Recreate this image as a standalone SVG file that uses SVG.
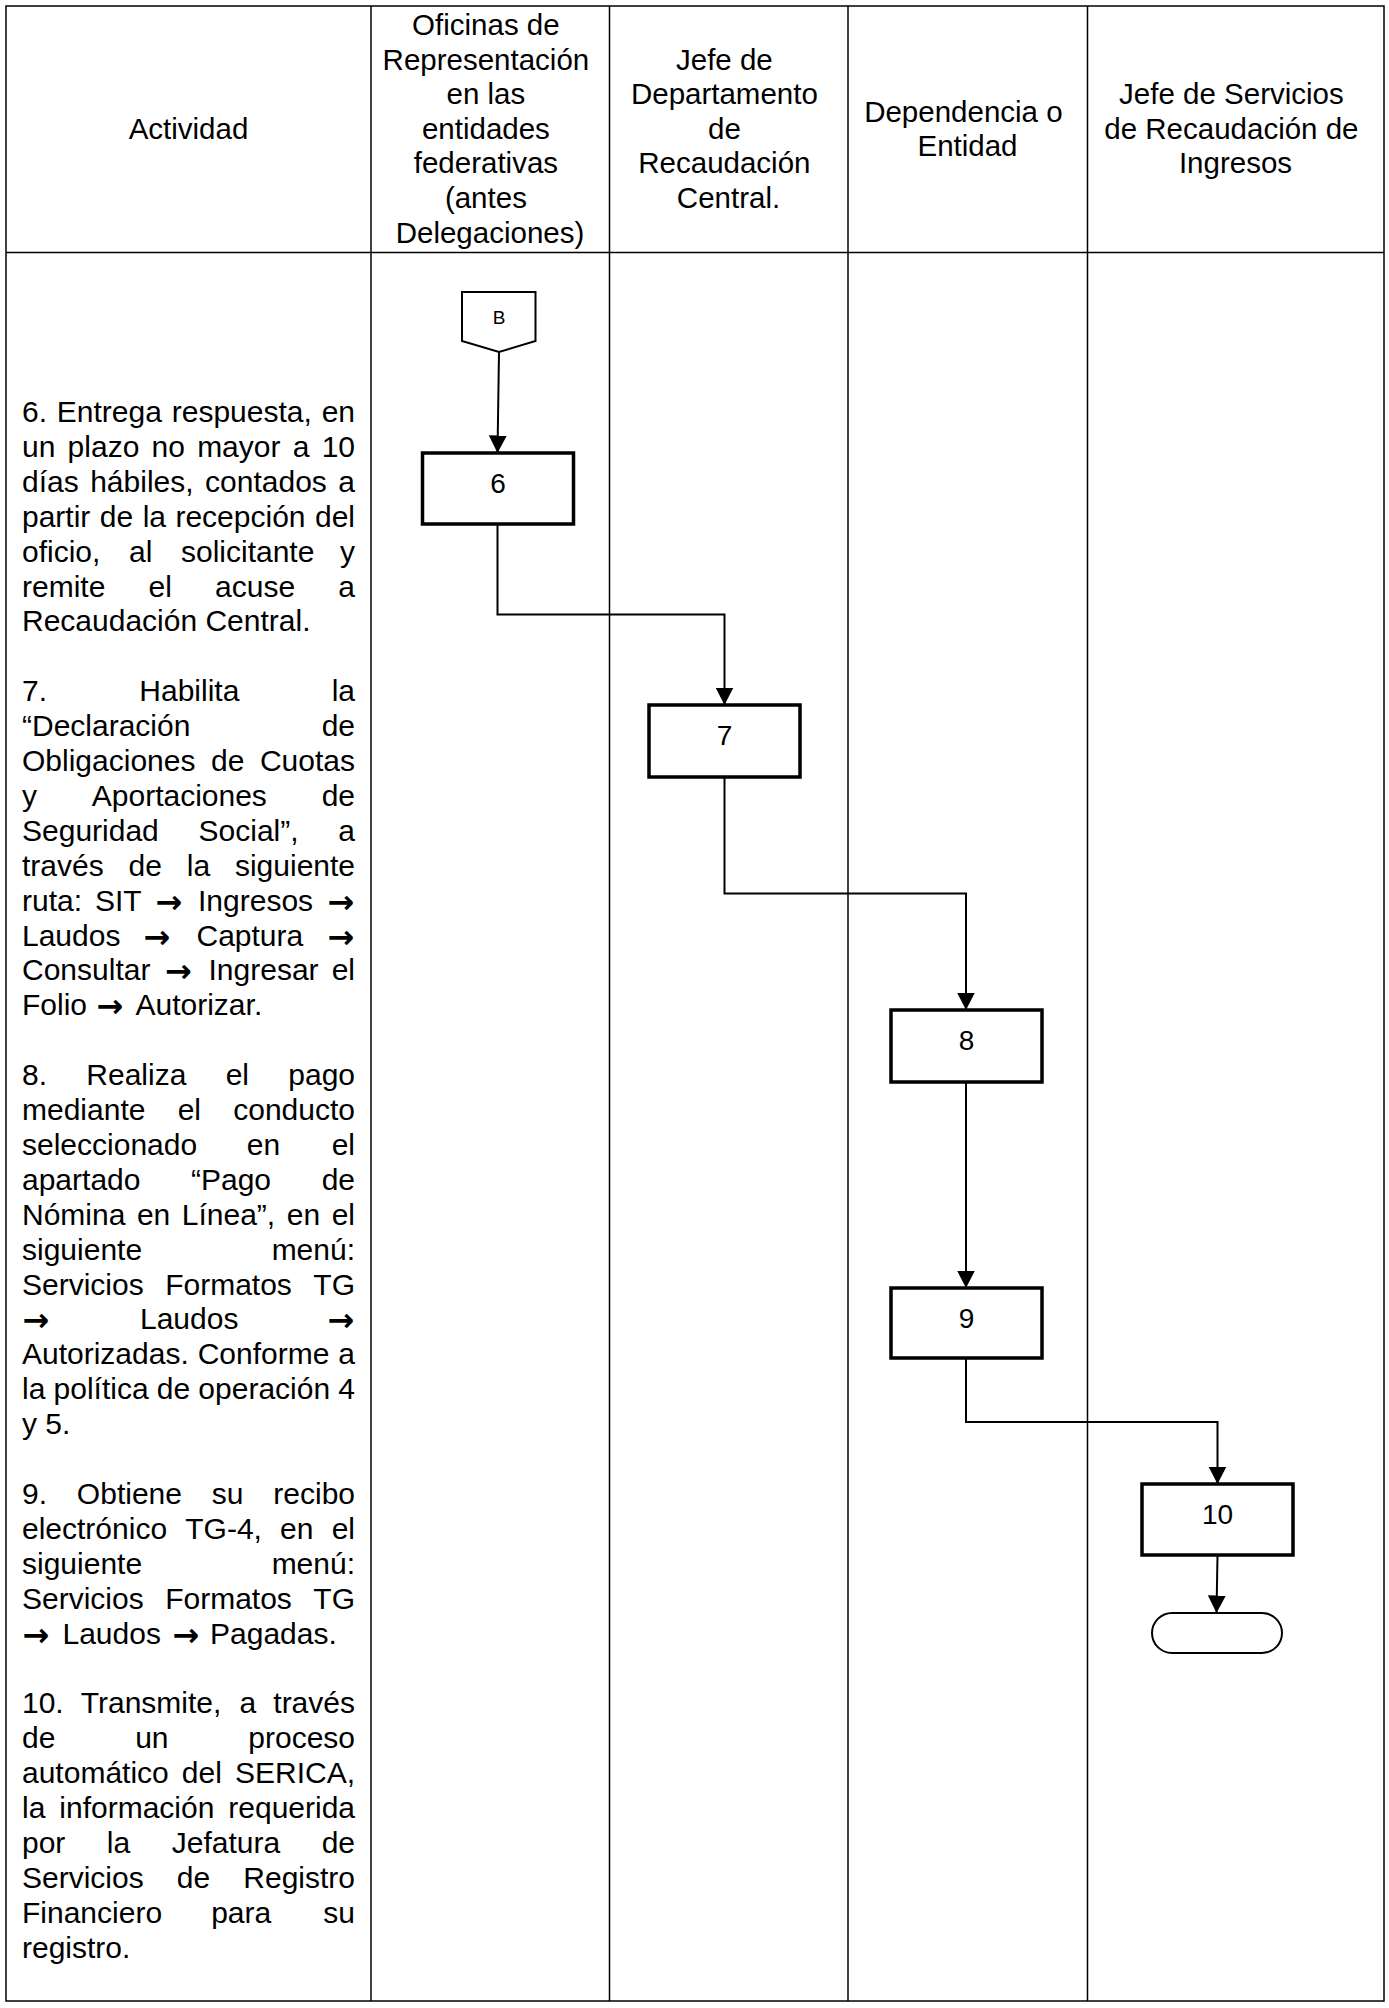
<svg xmlns="http://www.w3.org/2000/svg" width="1389" height="2008" viewBox="0 0 1389 2008">
<style>
  text { font-family: "Liberation Sans", Arial, sans-serif; fill: #000; }
  .hdr { font-size: 29.5px; text-anchor: middle; }
  .act { font-size: 30px; }
  .arr { font-family: "DejaVu Sans", sans-serif; font-size: 32px; font-weight: bold; text-anchor: middle; }
  .lbl { font-size: 28px; text-anchor: middle; }
  .conlbl { font-size: 19px; text-anchor: middle; }
  .grid { stroke: #000; stroke-width: 1.5; fill: none; }
  .box { fill: #fff; stroke: #000; stroke-width: 3.5; }
  .shape { fill: #fff; stroke: #000; stroke-width: 2; }
  .conn { fill: none; stroke: #000; stroke-width: 2; marker-end: url(#arrow); }
</style>
<defs>
  <marker id="arrow" markerUnits="userSpaceOnUse" markerWidth="18" markerHeight="18" refX="17.5" refY="9" orient="auto">
    <path d="M0,0 L17.5,9 L0,18 Z" fill="#000"/>
  </marker>
</defs>
<rect width="1389" height="2008" fill="#fff"/>

<g id="table">
  <rect class="grid" x="6" y="6" width="1378" height="1995"/>
  <line class="grid" x1="6" y1="252.5" x2="1384" y2="252.5"/>
  <line class="grid" x1="371" y1="6" x2="371" y2="2001"/>
  <line class="grid" x1="609.5" y1="6" x2="609.5" y2="2001"/>
  <line class="grid" x1="848" y1="6" x2="848" y2="2001"/>
  <line class="grid" x1="1087.5" y1="6" x2="1087.5" y2="2001"/>
</g>

<g id="header">
  <text class="hdr" x="188.5" y="138.8">Actividad</text>
  <text class="hdr">
    <tspan x="490" y="35">Oficinas de</tspan>
    <tspan x="490" y="69.6">Representación</tspan>
    <tspan x="490" y="104.2">en las</tspan>
    <tspan x="490" y="138.8">entidades</tspan>
    <tspan x="490" y="173.4">federativas</tspan>
    <tspan x="490" y="208">(antes</tspan>
    <tspan x="490" y="242.6">Delegaciones)</tspan>
  </text>
  <text class="hdr">
    <tspan x="728.5" y="69.6">Jefe de</tspan>
    <tspan x="728.5" y="104.2">Departamento</tspan>
    <tspan x="728.5" y="138.8">de</tspan>
    <tspan x="728.5" y="173.4">Recaudación</tspan>
    <tspan x="728.5" y="208">Central.</tspan>
  </text>
  <text class="hdr">
    <tspan x="967.5" y="121.5">Dependencia o</tspan>
    <tspan x="967.5" y="156.1">Entidad</tspan>
  </text>
  <text class="hdr">
    <tspan x="1235.5" y="104.2">Jefe de Servicios</tspan>
    <tspan x="1235.5" y="138.8">de Recaudación de</tspan>
    <tspan x="1235.5" y="173.4">Ingresos</tspan>
  </text>
</g>

<g id="activities">
  <!-- Step 6 -->
  <text class="act" y="422"><tspan x="22">6.</tspan><tspan x="56.85">Entrega</tspan><tspan x="171.74">respuesta,</tspan><tspan x="321.64">en</tspan></text>
  <text class="act" y="456.9"><tspan x="22">un</tspan><tspan x="67.6">plazo</tspan><tspan x="151.54">no</tspan><tspan x="197.14">mayor</tspan><tspan x="292.72">a</tspan><tspan x="321.64">10</tspan></text>
  <text class="act" y="491.8"><tspan x="22">días</tspan><tspan x="90.2">hábiles,</tspan><tspan x="205.08">contados</tspan><tspan x="338.32">a</tspan></text>
  <text class="act" y="526.7"><tspan x="22">partir</tspan><tspan x="99.81">de</tspan><tspan x="142.64">la</tspan><tspan x="175.45">recepción</tspan><tspan x="314.98">del</tspan></text>
  <text class="act" y="561.6"><tspan x="22">oficio,</tspan><tspan x="129">al</tspan><tspan x="180.98">solicitante</tspan><tspan x="340">y</tspan></text>
  <text class="act" y="596.5"><tspan x="22">remite</tspan><tspan x="148.54">el</tspan><tspan x="215.08">acuse</tspan><tspan x="338.32">a</tspan></text>
  <text class="act" x="22" y="631.4">Recaudación Central.</text>

  <!-- Step 7 -->
  <text class="act" y="701.2"><tspan x="22">7.</tspan><tspan x="139.33">Habilita</tspan><tspan x="331.66">la</tspan></text>
  <text class="act" y="736.1"><tspan x="22">“Declaración</tspan><tspan x="321.64">de</tspan></text>
  <text class="act" y="771"><tspan x="22">Obligaciones</tspan><tspan x="211">de</tspan><tspan x="259.96">Cuotas</tspan></text>
  <text class="act" y="805.9"><tspan x="22">y</tspan><tspan x="91.78">Aportaciones</tspan><tspan x="321.64">de</tspan></text>
  <text class="act" y="840.8"><tspan x="22">Seguridad</tspan><tspan x="198.52">Social”,</tspan><tspan x="338.32">a</tspan></text>
  <text class="act" y="875.7"><tspan x="22">través</tspan><tspan x="128.54">de</tspan><tspan x="186.75">la</tspan><tspan x="234.94">siguiente</tspan></text>
  <text class="act" y="910.6"><tspan x="22">ruta:</tspan><tspan x="95">SIT</tspan><tspan x="198">Ingresos</tspan></text>
  <text class="arr" x="169" y="912.6">→</text>
  <text class="arr" x="341" y="912.6">→</text>
  <text class="act" y="945.5"><tspan x="22">Laudos</tspan><tspan x="196.5">Captura</tspan></text>
  <text class="arr" x="157" y="947.5">→</text>
  <text class="arr" x="341" y="947.5">→</text>
  <text class="act" y="980.4"><tspan x="22">Consultar</tspan><tspan x="208.5">Ingresar</tspan><tspan x="331.66">el</tspan></text>
  <text class="arr" x="178.5" y="982.4">→</text>
  <text class="act" y="1015.3"><tspan x="22">Folio</tspan><tspan x="135.5">Autorizar.</tspan></text>
  <text class="arr" x="110" y="1017.3">→</text>

  <!-- Step 8 -->
  <text class="act" y="1085.1"><tspan x="22">8.</tspan><tspan x="86.32">Realiza</tspan><tspan x="225.64">el</tspan><tspan x="288.28">pago</tspan></text>
  <text class="act" y="1120"><tspan x="22">mediante</tspan><tspan x="177.66">el</tspan><tspan x="233.26">conducto</tspan></text>
  <text class="act" y="1154.9"><tspan x="22">seleccionado</tspan><tspan x="246.82">en</tspan><tspan x="331.66">el</tspan></text>
  <text class="act" y="1189.8"><tspan x="22">apartado</tspan><tspan x="191.01">“Pago</tspan><tspan x="321.64">de</tspan></text>
  <text class="act" y="1224.7"><tspan x="22">Nómina</tspan><tspan x="136.9">en</tspan><tspan x="181.81">Línea”,</tspan><tspan x="286.75">en</tspan><tspan x="331.66">el</tspan></text>
  <text class="act" y="1259.6"><tspan x="22">siguiente</tspan><tspan x="271.63">menú:</tspan></text>
  <text class="act" y="1294.5"><tspan x="22">Servicios</tspan><tspan x="165.16">Formatos</tspan><tspan x="313.33">TG</tspan></text>
  <text class="arr" x="36" y="1331.4">→</text>
  <text class="act" x="140" y="1329.4">Laudos</text>
  <text class="arr" x="341" y="1331.4">→</text>
  <text class="act" y="1364.3"><tspan x="22">Autorizadas.</tspan><tspan x="197.68">Conforme</tspan><tspan x="338.32">a</tspan></text>
  <text class="act" y="1399.2"><tspan x="22">la</tspan><tspan x="53.55">política</tspan><tspan x="156.8">de</tspan><tspan x="198.37">operación</tspan><tspan x="338.32">4</tspan></text>
  <text class="act" x="22" y="1434.1">y 5.</text>

  <!-- Step 9 -->
  <text class="act" y="1503.9"><tspan x="22">9.</tspan><tspan x="76.87">Obtiene</tspan><tspan x="211.78">su</tspan><tspan x="273.31">recibo</tspan></text>
  <text class="act" y="1538.8"><tspan x="22">electrónico</tspan><tspan x="185.24">TG-4,</tspan><tspan x="280.11">en</tspan><tspan x="331.66">el</tspan></text>
  <text class="act" y="1573.7"><tspan x="22">siguiente</tspan><tspan x="271.63">menú:</tspan></text>
  <text class="act" y="1608.6"><tspan x="22">Servicios</tspan><tspan x="165.16">Formatos</tspan><tspan x="313.33">TG</tspan></text>
  <text class="arr" x="36" y="1645.5">→</text>
  <text class="act" x="62.5" y="1643.5">Laudos</text>
  <text class="arr" x="186" y="1645.5">→</text>
  <text class="act" x="210" y="1643.5">Pagadas.</text>

  <!-- Step 10 -->
  <text class="act" y="1713.3"><tspan x="22">10.</tspan><tspan x="80.78">Transmite,</tspan><tspan x="239.55">a</tspan><tspan x="273.31">través</tspan></text>
  <text class="act" y="1748.2"><tspan x="22">de</tspan><tspan x="135.15">un</tspan><tspan x="248.29">proceso</tspan></text>
  <text class="act" y="1783.1"><tspan x="22">automático</tspan><tspan x="181.84">del</tspan><tspan x="234.97">SERICA,</tspan></text>
  <text class="act" y="1818"><tspan x="22">la</tspan><tspan x="59.29">información</tspan><tspan x="228.28">requerida</tspan></text>
  <text class="act" y="1852.9"><tspan x="22">por</tspan><tspan x="106.87">la</tspan><tspan x="171.73">Jefatura</tspan><tspan x="321.64">de</tspan></text>
  <text class="act" y="1887.8"><tspan x="22">Servicios</tspan><tspan x="176.82">de</tspan><tspan x="243.31">Registro</tspan></text>
  <text class="act" y="1922.7"><tspan x="22">Financiero</tspan><tspan x="211.17">para</tspan><tspan x="323.32">su</tspan></text>
  <text class="act" x="22" y="1957.6">registro.</text>
</g>

<g id="connectors">
  <path class="conn" d="M499,352 L497.5,453"/>
  <path class="conn" d="M497.5,524 V614.5 H724.5 V705"/>
  <path class="conn" d="M724.5,777 V893.6 H966 V1010"/>
  <path class="conn" d="M966,1082 V1288"/>
  <path class="conn" d="M966,1358 V1422 H1217.5 V1484"/>
  <path class="conn" d="M1217.5,1555 L1216.5,1613"/>
</g>

<g id="node-B">
  <path class="shape" d="M462,292 H535.5 V341 L499,352 L462,341 Z"/>
  <text class="conlbl" x="499" y="324">B</text>
</g>
<g id="node-6">
  <rect class="box" x="422.5" y="453" width="151" height="71"/>
  <text class="lbl" x="498" y="492.5">6</text>
</g>
<g id="node-7">
  <rect class="box" x="649" y="705" width="151" height="72"/>
  <text class="lbl" x="724.5" y="744.5">7</text>
</g>
<g id="node-8">
  <rect class="box" x="891" y="1010" width="151" height="72"/>
  <text class="lbl" x="966.5" y="1050">8</text>
</g>
<g id="node-9">
  <rect class="box" x="891" y="1288" width="151" height="70"/>
  <text class="lbl" x="966.5" y="1328">9</text>
</g>
<g id="node-10">
  <rect class="box" x="1142" y="1484" width="151" height="71"/>
  <text class="lbl" x="1217.5" y="1524">10</text>
</g>
<g id="node-end">
  <rect class="shape" x="1152" y="1613" width="130" height="40" rx="20" ry="20"/>
</g>
</svg>
